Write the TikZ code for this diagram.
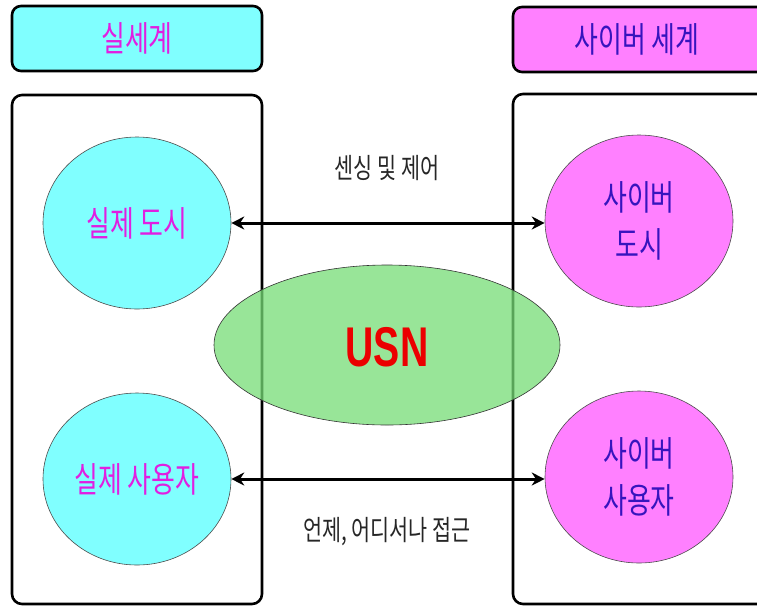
\documentclass[tikz,border=0pt]{standalone}
\usepackage{fontspec}
\usetikzlibrary{shapes.geometric,arrows.meta}
\newfontfamily\ko[FakeStretch=0.74]{Noto Sans CJK KR}
\newfontfamily\usnfont[FakeStretch=0.7]{Liberation Sans}
\definecolor{cyanfill}{RGB}{128,255,255}
\definecolor{magfill}{RGB}{255,128,255}
\definecolor{usngreen}{RGB}{118,220,118}
\definecolor{magtext}{RGB}{225,30,225}
\definecolor{bluetext}{RGB}{55,20,190}
\definecolor{usnred}{RGB}{235,0,0}
\tikzset{
  titlebox/.style={draw=black, line width=2.6pt, rounded corners=9pt},
  worldbox/.style={draw=black, line width=2.6pt, rounded corners=10pt},
  realell/.style={ellipse, draw=black!70, line width=0.6pt, fill=cyanfill, minimum width=188pt, minimum height=172pt, inner sep=0pt},
  cyberell/.style={ellipse, draw=black!70, line width=0.6pt, fill=magfill, minimum width=188pt, minimum height=172pt, inner sep=0pt, align=center},
  bigtext/.style={font=\ko\fontsize{35}{47}\selectfont},
  smalltext/.style={font=\ko\fontsize{28}{30}\selectfont, text=black!85},
  link/.style={{Stealth[length=13pt,width=13pt]}-{Stealth[length=13pt,width=13pt]}, line width=3pt}
}
\begin{document}
\begin{tikzpicture}[x=1pt,y=-1pt]
\useasboundingbox (0,0) rectangle (757,606);
\clip (0,0) rectangle (757,606);
% title boxes
\draw[titlebox, fill=cyanfill] (12,6) rectangle (262,71);
\node[bigtext, text=magtext] (treal) at (137,38) {실세계};
\draw[titlebox, fill=magfill] (513,7) rectangle (790,72);
\node[bigtext, text=bluetext] (tcyber) at (637,39) {사이버 세계};
% world boxes
\draw[worldbox] (12,95) rectangle (262,604);
\draw[worldbox] (513,94) rectangle (790,604);
% USN
\node[ellipse, draw=black!80, line width=0.6pt, fill=usngreen, fill opacity=0.75, text opacity=1, minimum width=346pt, minimum height=160pt, inner sep=0pt] (usn) at (387,345) {};
\node[font=\usnfont\bfseries\fontsize{56}{60}\selectfont, text=usnred] (usnt) at (387,347) {USN};
% ellipses
\node[realell, bigtext, text=magtext] (rcity) at (137,223) {실제 도시};
\node[realell, bigtext, text=magtext] (ruser) at (137,479) {실제 사용자};
\node[cyberell, bigtext, text=bluetext] (ccity) at (639,221) {사이버\\도시};
\node[cyberell, bigtext, text=bluetext] (cuser) at (639,477) {사이버\\사용자};
% arrows
\draw[link] (rcity.east) -- (ccity.west |- rcity.east);
\draw[link] (ruser.east) -- (cuser.west |- ruser.east);
% labels
\node[smalltext] (lab1) at (387,168) {센싱 및 제어};
\node[smalltext] (lab2) at (387,532) {언제, 어디서나 접근};
\end{tikzpicture}
\end{document}
